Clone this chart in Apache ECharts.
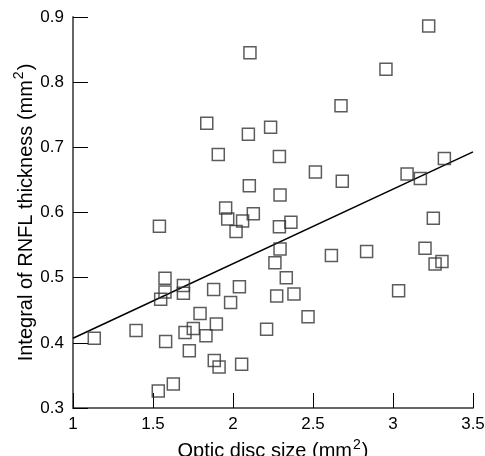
<!DOCTYPE html>
<html>
<head>
<meta charset="utf-8">
<script src="https://cdn.jsdelivr.net/npm/echarts@6/dist/echarts.min.js"></script>
<style>
html,body{margin:0;padding:0;background:#fff;}
#chart{width:485px;height:456px;}
</style>
</head>
<body>
<div id="chart"></div>
<script>
// Optic disc size (mm^2)
const discSize = [
  2.106, 1.836, 2.096, 2.235, 1.908, 2.290, 2.102, 2.294, 1.954, 3.223,
  2.956, 2.675, 2.515, 2.683, 3.088, 3.171, 3.321, 1.967, 2.019, 2.060,
  2.127, 2.290, 2.294, 2.262, 2.273, 1.540, 1.575, 1.575, 1.548, 1.690,
  1.690, 1.879, 2.040, 1.985, 1.794, 1.896, 1.700, 1.752, 1.831, 1.394,
  1.133, 1.579, 1.727, 1.883, 1.913, 2.054, 1.627, 1.533, 2.210, 3.252,
  2.362, 2.333, 2.381, 2.469, 2.615, 2.835, 3.200, 3.306, 3.263, 3.035
];
// Integral of RNFL thickness (mm^2)
const rnflIntegral = [
  0.845, 0.737, 0.720, 0.731, 0.689, 0.686, 0.641, 0.627, 0.607, 0.886,
  0.820, 0.764, 0.662, 0.648, 0.659, 0.652, 0.683, 0.590, 0.571, 0.587,
  0.598, 0.578, 0.544, 0.523, 0.472, 0.579, 0.499, 0.478, 0.467, 0.488,
  0.476, 0.482, 0.486, 0.462, 0.445, 0.429, 0.416, 0.422, 0.411, 0.419,
  0.407, 0.402, 0.388, 0.373, 0.363, 0.367, 0.337, 0.326, 0.421, 0.591,
  0.585, 0.500, 0.475, 0.440, 0.534, 0.540, 0.545, 0.525, 0.521, 0.480
];
// Regression line end points
const fitX = [1, 3.5];
const fitY = [0.407, 0.693];

const xTicks = [1, 1.5, 2, 2.5, 3, 3.5];
const yTicks = [0.3, 0.4, 0.5, 0.6, 0.7, 0.8, 0.9];

const points = discSize.map((x, i) => [x, rnflIntegral[i]]);
const fitLine = fitX.map((x, i) => [x, fitY[i]]);

const chart = echarts.init(document.getElementById('chart'), null, {renderer: 'canvas'});
const fontFamily = '"Liberation Sans", Arial, sans-serif';
const nameRich = {
  a: {color: '#000', fontSize: 20, fontFamily: fontFamily, lineHeight: 24, verticalAlign: 'bottom'},
  s: {color: '#000', fontSize: 14, fontFamily: fontFamily, lineHeight: 24, verticalAlign: 'top', padding: [0, 1, 0, 1]}
};
chart.setOption({
  animation: false,
  backgroundColor: '#fff',
  grid: {left: 73, right: 12, top: 17, bottom: 48, containLabel: false, outerBoundsMode: 'none'},
  xAxis: {
    type: 'value',
    min: xTicks[0], max: xTicks[xTicks.length - 1], interval: 0.5,
    name: '{a|Optic disc size (mm}{s|2}{a|)}',
    nameLocation: 'middle', nameGap: 19,
    nameTextStyle: {rich: nameRich},
    axisLine: {show: true, lineStyle: {color: '#666', width: 2}},
    axisTick: {show: true, inside: true, length: 15, lineStyle: {color: '#000', width: 1}},
    axisLabel: {color: '#000', fontSize: 17, fontFamily: fontFamily, margin: 8,
      formatter: v => String(+v.toFixed(1))},
    splitLine: {show: false}
  },
  yAxis: {
    type: 'value',
    min: yTicks[0], max: yTicks[yTicks.length - 1], interval: 0.1,
    name: '{a|Integral of RNFL thickness (mm}{s|2}{a|)}',
    nameLocation: 'middle', nameGap: 37, nameRotate: 90,
    nameMoveOverlap: false,
    nameTextStyle: {rich: nameRich},
    axisLine: {show: true, lineStyle: {color: '#666', width: 2}},
    axisTick: {show: true, inside: true, length: 15, lineStyle: {color: '#000', width: 1}},
    axisLabel: {color: '#000', fontSize: 17, fontFamily: fontFamily, margin: 9,
      formatter: v => v.toFixed(1)},
    splitLine: {show: false}
  },
  series: [
    {
      type: 'line',
      data: fitLine,
      showSymbol: false,
      symbol: 'none',
      lineStyle: {color: '#000', width: 1.5},
      silent: true,
      z: 1
    },
    {
      type: 'scatter',
      data: points,
      symbol: 'rect',
      symbolSize: 12,
      itemStyle: {color: 'rgba(0,0,0,0)', borderColor: '#333', borderWidth: 1.5},
      z: 2
    }
  ]
});
</script>
</body>
</html>
